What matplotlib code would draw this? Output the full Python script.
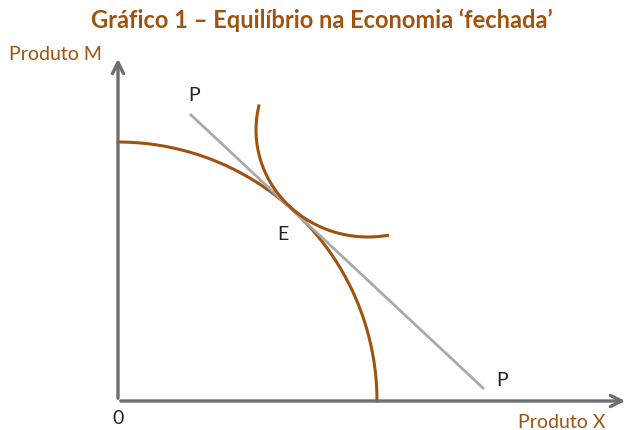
import numpy as np
import matplotlib.pyplot as plt

# valores (pixels a partir da origem)
fronteira_x = 259      # intercepto da fronteira no eixo X
fronteira_y = 259      # intercepto no eixo M
linha_preco_x = [73, 365]
linha_preco_y = [286, 13]
# curva de indiferenca: centro, raios, angulos inicial/final (graus)
indif_centro = [250, 271]
indif_raios = [112, 107]
indif_angulos = [-13, 100]
titulo = "Gráfico 1 – Equilíbrio na Economia ‘fechada’"

marrom = '#A0520F'
cinza_eixo = '#6E6E70'

fig = plt.figure(figsize=(6.3, 4.3), dpi=100)
ax = fig.add_axes([0, 0, 1, 1])
ax.set_xlim(-118, 512)
ax.set_ylim(-29, 401)
ax.axis('off')

# eixos
ax.annotate('', xy=(0, 345), xytext=(0, 0),
            arrowprops=dict(arrowstyle='->,head_length=0.8,head_width=0.4', color=cinza_eixo, lw=2.4))
ax.annotate('', xy=(510, 0), xytext=(0, 0),
            arrowprops=dict(arrowstyle='->,head_length=0.8,head_width=0.4', color=cinza_eixo, lw=2.4))

# fronteira de possibilidades de producao
t = np.linspace(0, np.pi / 2, 200)
ax.plot(fronteira_x * np.cos(t), fronteira_y * np.sin(t), color=marrom, lw=2.2)

# linha de precos
ax.plot(linha_preco_x, linha_preco_y, color='#AAAAAA', lw=2)

# curva de indiferenca
phi = np.radians(np.linspace(indif_angulos[0], indif_angulos[1], 200))
ax.plot(indif_centro[0] - indif_raios[0] * np.cos(phi),
        indif_centro[1] - indif_raios[1] * np.sin(phi), color=marrom, lw=2.2)

fonte = 'Lato'
ax.text(76, 297, 'P', fontsize=14, color='#222222', family=fonte, ha='center', va='bottom')
ax.text(378, 20, 'P', fontsize=14, color='#222222', family=fonte, ha='left', va='center')
ax.text(165, 166, 'E', fontsize=14, color='#222222', family=fonte, ha='center', va='center')
ax.text(0, -17, '0', fontsize=14, color='#222222', family=fonte, ha='center', va='center')
ax.text(-16, 346, 'Produto M', fontsize=14, color=marrom, family=fonte, ha='right', va='center')
ax.text(487, -22, 'Produto X', fontsize=14, color=marrom, family=fonte, ha='right', va='center')

fig.text(0.511, 0.953, titulo, fontsize=17, fontweight='bold', color=marrom, family=fonte,
         ha='center', va='center')

fig.savefig('out.png', dpi=100)
